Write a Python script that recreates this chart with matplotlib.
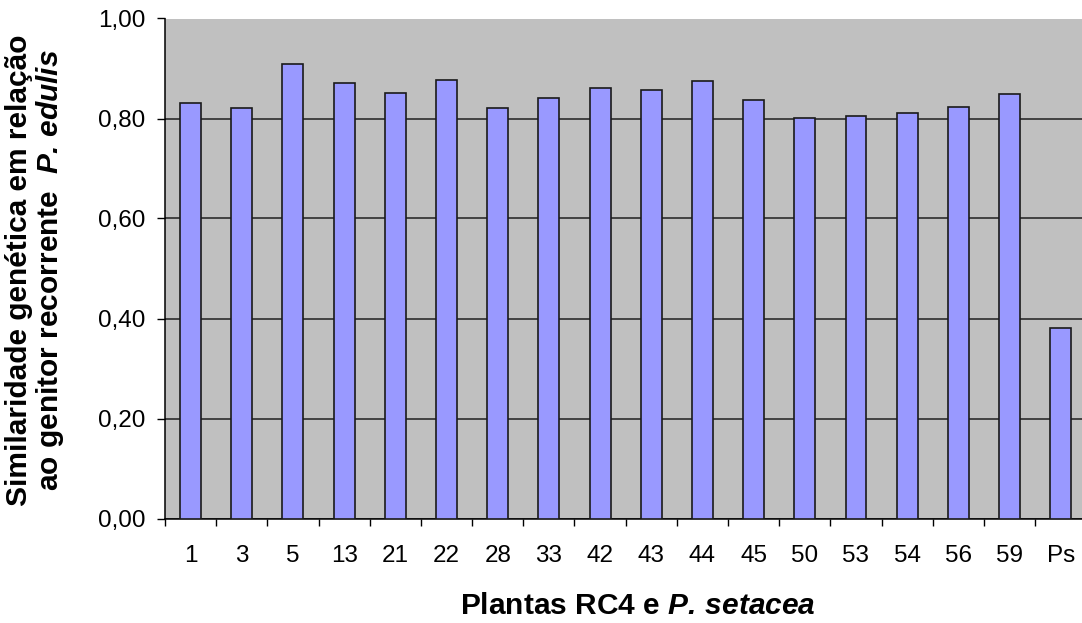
import matplotlib
matplotlib.use("Agg")
import matplotlib.pyplot as plt
from matplotlib.ticker import MultipleLocator, FixedLocator, FuncFormatter

plt.rcParams['font.family'] = ['Liberation Sans', 'DejaVu Sans']
plt.rcParams['mathtext.fontset'] = 'custom'
plt.rcParams['mathtext.rm'] = 'Liberation Sans'
plt.rcParams['mathtext.bf'] = 'Liberation Sans:bold'
plt.rcParams['mathtext.it'] = 'Liberation Sans:italic'
plt.rcParams['mathtext.bfit'] = 'Liberation Sans:bold:italic'

plants = ["1", "3", "5", "13", "21", "22", "28", "33", "42", "43", "44",
          "45", "50", "53", "54", "56", "59", "Ps"]
similarity = [0.831, 0.821, 0.909, 0.872, 0.852, 0.878, 0.821, 0.842, 0.862,
              0.857, 0.875, 0.838, 0.802, 0.805, 0.812, 0.824, 0.850, 0.382]

W, H = 1082, 623
fig = plt.figure(figsize=(W / 100, H / 100), dpi=100)
ax = fig.add_axes([165 / W, 1 - 518.5 / H, (W - 165) / W + 0.004, (518.5 - 18.5) / H])
ax.set_facecolor('#C0C0C0')

x = list(range(len(plants)))
ax.bar(x, similarity, width=0.41, color='#9999FF', edgecolor='#1a1a1a',
       linewidth=1.2, zorder=3)

ax.set_xlim(-0.5, len(plants) - 0.5)
ax.set_ylim(0, 1.0)
ax.yaxis.set_major_locator(MultipleLocator(0.2))
ax.yaxis.set_major_formatter(FuncFormatter(lambda v, p: f"{v:.2f}".replace('.', ',')))
ax.grid(axis='y', color='#202020', linewidth=1.1, zorder=1)
ax.set_axisbelow(True)

ax.set_xticks(x)
ax.set_xticklabels(plants)
ax.xaxis.set_minor_locator(FixedLocator([i - 0.5 for i in range(len(plants) + 1)]))
ax.tick_params(axis='x', which='major', length=0, pad=19, labelsize=17.5)
ax.tick_params(axis='x', which='minor', length=5, width=1, color='black', direction='out')
ax.tick_params(axis='y', which='major', length=6, width=1, color='black',
               direction='out', labelsize=17.5, pad=8)

for s in ['top', 'right']:
    ax.spines[s].set_visible(False)
for s in ['left', 'bottom']:
    ax.spines[s].set_color('black')
    ax.spines[s].set_linewidth(1.1)

lab_size = 21.5
fig.text(637.5 / W, 1 - 614 / H, r"Plantas RC4 e $\mathbfit{P.\,setacea}$",
         fontsize=lab_size, fontweight='bold', ha='center', va='baseline')
fig.text(27 / W, 1 - 270 / H, "Similaridade genética em relação",
         fontsize=lab_size, fontweight='bold', rotation=90,
         rotation_mode='anchor', ha='center', va='baseline')
fig.text(58 / W, 1 - 270 / H, r"ao genitor recorrente  $\mathbfit{P.\,edulis}$",
         fontsize=lab_size, fontweight='bold', rotation=90,
         rotation_mode='anchor', ha='center', va='baseline')

fig.savefig("out.png", dpi=100, facecolor='white')
